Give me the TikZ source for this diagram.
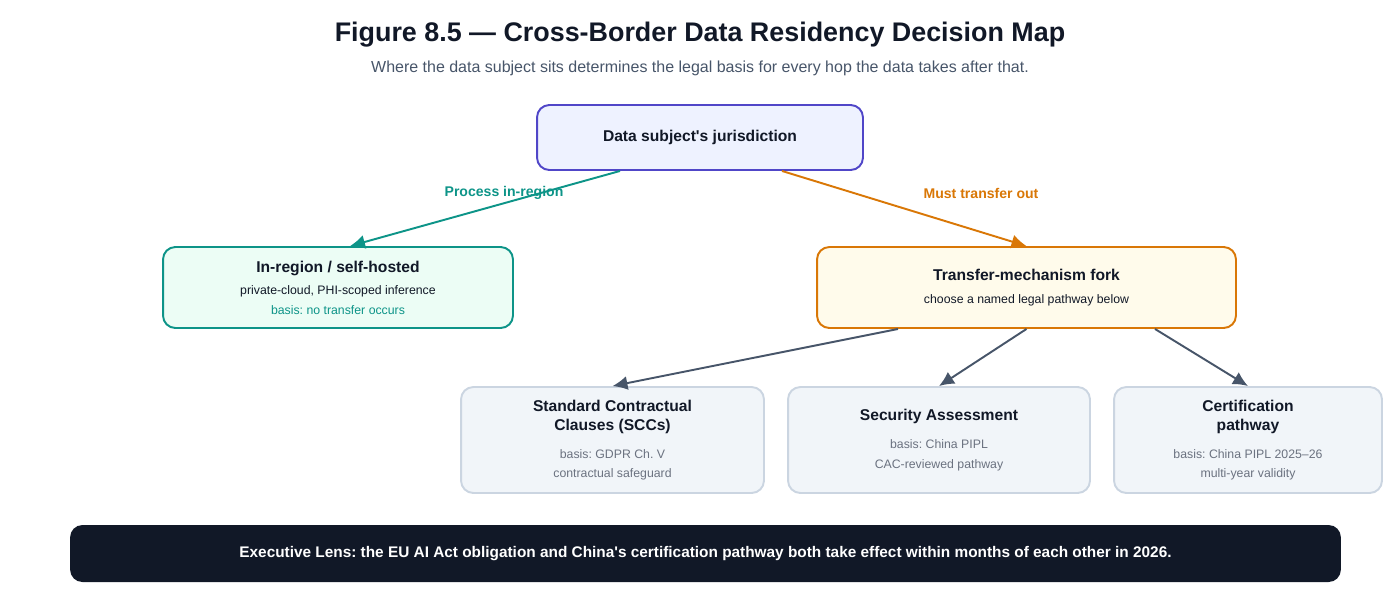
\documentclass[tikz,border=0pt]{standalone}
\usepackage{fontspec}
\setmainfont{Liberation Sans}
\frenchspacing
\usetikzlibrary{arrows.meta, positioning}
\definecolor{ink}{HTML}{111827}
\definecolor{slate}{HTML}{475569}
\definecolor{muted}{HTML}{6B7280}
\definecolor{rootline}{HTML}{5046C8}
\definecolor{rootfill}{HTML}{EEF2FF}
\definecolor{tealline}{HTML}{0D9488}
\definecolor{tealfill}{HTML}{ECFDF5}
\definecolor{amberline}{HTML}{D97706}
\definecolor{amberfill}{HTML}{FFFBEB}
\definecolor{pathline}{HTML}{CBD5E1}
\definecolor{pathfill}{HTML}{F1F5F9}
\newcommand{\sml}{\fontsize{7}{9.5}\selectfont\mdseries}
\newcommand{\note}{\sml\color{muted}}
\tikzset{
  box/.style={rectangle, rounded corners=7pt, line width=1.1pt, align=center,
    text=ink, font=\fontsize{8.9}{11}\selectfont\bfseries},
  rootbox/.style={box, draw=rootline, fill=rootfill, minimum width=6.52cm, minimum height=1.3cm},
  localbox/.style={box, draw=tealline, fill=tealfill, minimum width=7cm, minimum height=1.62cm},
  forkbox/.style={box, draw=amberline, fill=amberfill, minimum width=8.38cm, minimum height=1.62cm},
  pathbox/.style={box, draw=pathline, fill=pathfill, minimum height=2.12cm},
  arrow/.style={line width=1.1pt, -{Latex[length=3mm,width=2.8mm]}}
}
\begin{document}
\begin{tikzpicture}[x=0.02cm, y=-0.02cm]
  \useasboundingbox (0,0) rectangle (1400,606);
  % Heading
  \node[text=ink, font=\fontsize{15.3}{18}\selectfont\bfseries] (title) at (700,35)
    {Figure 8.5 — Cross-Border Data Residency Decision Map};
  \node[text=slate, font=\fontsize{9.1}{11}\selectfont] (sub) at (700,68)
    {Where the data subject sits determines the legal basis for every hop the data takes after that.};
  % Boxes
  \node[rootbox] (root) at (700,137.5) {Data subject\textquotesingle s jurisdiction};
  \node[localbox] (local) at (338,287.5)
    {In-region / self-hosted\\[2pt]
     \sml private-cloud, PHI-scoped inference\\
     \sml\color{tealline}basis: no transfer occurs};
  \node[forkbox] (fork) at (1026.5,287.5)
    {Transfer-mechanism fork\\[2pt]
     \sml choose a named legal pathway below};
  \node[pathbox, minimum width=6.06cm] (scc) at (612.5,440)
    {Standard Contractual\\Clauses (SCCs)\\[5pt]
     \note basis: GDPR Ch. V\\ \note contractual safeguard};
  \node[pathbox, minimum width=6.04cm] (sec) at (939,440)
    {Security Assessment\\[5pt]
     \note basis: China PIPL\\ \note CAC-reviewed pathway};
  \node[pathbox, minimum width=5.36cm] (cert) at (1248,440)
    {Certification\\pathway\\[5pt]
     \note basis: China PIPL 2025–26\\ \note multi-year validity};
  % Banner
  \node[rectangle, rounded corners=7pt, fill=ink, text=white, minimum width=25.42cm,
    minimum height=1.14cm, font=\fontsize{8.75}{11}\selectfont\bfseries] (lens) at (705.5,553.5)
    {Executive Lens: the EU AI Act obligation and China\textquotesingle s certification pathway both take effect within months of each other in 2026.};
  % Arrows
  \draw[arrow, tealline] ([xshift=-1.6cm]root.south) -- ([xshift=0.24cm]local.north);
  \draw[arrow, amberline] ([xshift=1.64cm]root.south) -- (fork.north);
  \node[text=tealline, font=\fontsize{8}{10}\selectfont\bfseries] (lbin) at (504,193) {Process in-region};
  \node[text=amberline, font=\fontsize{8}{10}\selectfont\bfseries] (lbout) at (981,193) {Must transfer out};
  \draw[arrow, slate] ([xshift=-2.57cm]fork.south) -- (scc.north);
  \draw[arrow, slate] (fork.south) -- (sec.north);
  \draw[arrow, slate] ([xshift=2.57cm]fork.south) -- (cert.north);
\end{tikzpicture}
\end{document}
